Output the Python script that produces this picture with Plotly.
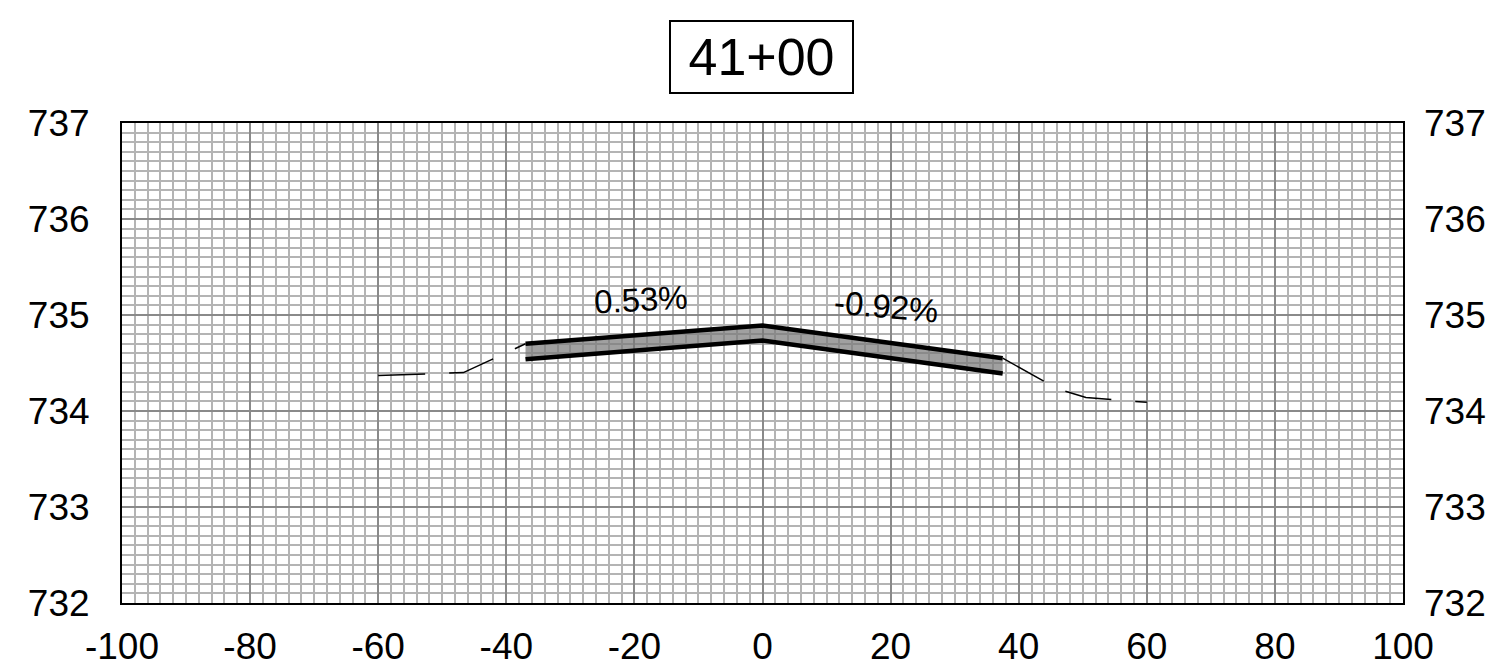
import plotly.graph_objects as go

# Data
x_ticks = [-100, -80, -60, -40, -20, 0, 20, 40, 60, 80, 100]
x_tick_text = ["-100", "-80", "-60", "-40", "-20", "0", "20", "40", "60", "80", "100"]
y_ticks = [732, 733, 734, 735, 736, 737]
y_tick_text = ["732", "733", "734", "735", "736", "737"]

ground_left_x = [-60, -46.7, -37]
ground_left_y = [734.37, 734.40, 734.70]
ground_right_x = [37.5, 46.1, 50.5, 60]
ground_right_y = [734.55, 734.23, 734.14, 734.09]

pave_x = [-37, 0, 37.5]
pave_top = [734.70, 734.89, 734.55]
pave_bot = [734.54, 734.735, 734.39]

slope_labels = ["0.53%", "-0.92%"]
slope_label_x = [-19.0, 19.3]
slope_label_y = [735.165, 735.09]
slope_label_angle = [-3, 5]

station = "41+00"

FONT = "Liberation Sans, Arial, sans-serif"

fig = go.Figure()

# ground lines (dashed)
for gx, gy in [(ground_left_x, ground_left_y), (ground_right_x, ground_right_y)]:
    fig.add_trace(go.Scatter(x=gx, y=gy, mode="lines",
                             line=dict(color="black", width=1.5, dash="47px,24px"),
                             hoverinfo="skip", showlegend=False))

# pavement
fig.add_trace(go.Scatter(x=pave_x, y=pave_bot, mode="lines",
                         line=dict(color="black", width=4.5),
                         showlegend=False))
fig.add_trace(go.Scatter(x=pave_x, y=pave_top, mode="lines",
                         line=dict(color="black", width=4.5),
                         fill="tonexty", fillcolor="rgba(120,120,120,0.7)",
                         showlegend=False))

# invisible trace for right axis
fig.add_trace(go.Scatter(x=[0], y=[735], yaxis="y2", mode="markers",
                         marker=dict(opacity=0), hoverinfo="skip", showlegend=False))

for t, xx, yy, ang in zip(slope_labels, slope_label_x, slope_label_y, slope_label_angle):
    fig.add_annotation(x=xx, y=yy, text=t, showarrow=False, textangle=ang,
                       font=dict(family=FONT, size=33, color="black"))

fig.add_annotation(xref="paper", yref="paper", x=0.499, y=1.137,
                   xanchor="center", yanchor="middle", text=station,
                   showarrow=False, font=dict(family=FONT, size=52, color="black"),
                   bordercolor="black", borderwidth=2, borderpad=0,
                   width=181, height=70, bgcolor="white")

tickfont = dict(family=FONT, size=37, color="black")

fig.update_layout(
    width=1495, height=669,
    margin=dict(l=122, r=92, t=123, b=66, autoexpand=False),
    paper_bgcolor="white", plot_bgcolor="white",
    xaxis=dict(range=[-100, 100], tickmode="array", tickvals=x_ticks, ticktext=x_tick_text,
               showgrid=True, gridcolor="#8a8a8a", gridwidth=2,
               minor=dict(tickmode="linear", tick0=0, dtick=2, showgrid=True,
                          gridcolor="#b4b4b4", gridwidth=2),
               showline=True, linecolor="black", linewidth=2, mirror=True,
               zeroline=False, ticks="", automargin=False,
               ticklabelstandoff=10, tickfont=tickfont),
    yaxis=dict(range=[732, 737], tickmode="array", tickvals=y_ticks, ticktext=y_tick_text,
               showgrid=True, gridcolor="#8a8a8a", gridwidth=2,
               minor=dict(tickmode="linear", tick0=732, dtick=0.1, showgrid=True,
                          gridcolor="#b4b4b4", gridwidth=2),
               showline=True, linecolor="black", linewidth=2, mirror=True,
               zeroline=False, ticks="", automargin=False,
               ticklabelstandoff=23, tickfont=tickfont),
    yaxis2=dict(range=[732, 737], tickmode="array", tickvals=y_ticks, ticktext=y_tick_text,
                overlaying="y", side="right",
                showgrid=False, showline=False, zeroline=False, ticks="",
                automargin=False, ticklabelstandoff=20, tickfont=tickfont),
)

fig.write_html("out.html", config={"displayModeBar": False},
               post_script="document.body.style.margin='0';")
